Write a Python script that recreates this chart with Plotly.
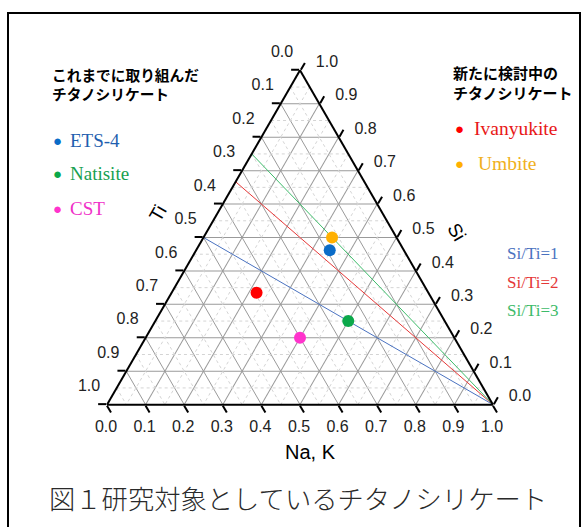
import plotly.graph_objects as go

# ---- data ----
names = ["ETS-4", "Natisite", "CST", "Ivanyukite", "Umbite"]
si_vals = [0.462, 0.25, 0.20, 0.335, 0.50]
ti_vals = [0.192, 0.25, 0.40, 0.445, 0.167]
nak_vals = [0.346, 0.50, 0.40, 0.22, 0.333]
point_colors = ["#0A6CC8", "#0BA84A", "#FF33CC", "#FF0000", "#FFB000"]
label_colors = ["#1F5FAF", "#17A050", "#F030C8", "#E81818", "#F0B020"]

ratio_labels = ["Si/Ti=1", "Si/Ti=2", "Si/Ti=3"]
ratios = [1, 2, 3]
ratio_colors = ["#4A72C0", "#E53838", "#3DBB6A"]

tick_vals = [i / 10 for i in range(11)]
tick_text = ["%.1f" % (1 - v) for v in tick_vals]
minor_vals = [0.05 + i / 10 for i in range(10)]

fig = go.Figure()

# minor dotted grid
ma, mb, mc = [], [], []
for v in minor_vals:
    ma += [v, v, None]; mb += [1 - v, 0, None]; mc += [0, 1 - v, None]
    ma += [1 - v, 0, None]; mb += [v, v, None]; mc += [0, 1 - v, None]
    ma += [1 - v, 0, None]; mb += [0, 1 - v, None]; mc += [v, v, None]
fig.add_trace(go.Scatterternary(a=ma, b=mb, c=mc, mode="lines",
                                line=dict(color="#d4d4d4", width=1, dash="dot"),
                                hoverinfo="skip", showlegend=False))

# ratio lines
for r, col in zip(ratios, ratio_colors):
    fig.add_trace(go.Scatterternary(a=[0, r / (1 + r)], b=[0, 1 / (1 + r)], c=[1, 0],
                                    mode="lines", line=dict(color=col, width=1),
                                    hoverinfo="skip", showlegend=False))

# points
for n, s, t, k, col in zip(names, si_vals, ti_vals, nak_vals, point_colors):
    fig.add_trace(go.Scatterternary(a=[s], b=[t], c=[k], mode="markers", name=n,
                                    marker=dict(color=col, size=12), showlegend=False))

# helper subplots that only carry tick labels (offset like the original)
for sp in ["ternary2", "ternary3", "ternary4"]:
    fig.add_trace(go.Scatterternary(a=[], b=[], c=[], subplot=sp, showlegend=False,
                                    hoverinfo="skip"))

tickfont = dict(family="Liberation Sans, Arial", size=16, color="#222")
axis_common = dict(tickvals=tick_vals, ticktext=[""] * len(tick_vals), ticks="outside",
                   ticklen=8, tickcolor="black", tickwidth=1.5, linecolor="black",
                   linewidth=2, gridcolor="#9a9a9a", gridwidth=1, showgrid=True,
                   showticklabels=True, tickfont=tickfont, title=dict(text=""))
label_only = dict(tickvals=tick_vals, ticktext=tick_text, ticks="outside", ticklen=8,
                  tickcolor="rgba(0,0,0,0)", showline=False, showgrid=False,
                  tickfont=tickfont, title=dict(text=""))
hidden = dict(showline=False, showgrid=False, showticklabels=False, ticks="",
              title=dict(text=""))

W, H = 588, 527
x0, x1, y0, y1 = 107, 493, 122, 457


def dom(dx, dy):
    return dict(x=[(x0 + dx) / W, (x1 + dx) / W], y=[(y0 + dy) / H, (y1 + dy) / H])


fig.update_layout(
    width=W, height=H,
    margin=dict(l=0, r=0, t=0, b=0),
    paper_bgcolor="white",
    ternary=dict(domain=dom(0, 0), bgcolor="white", sum=1,
                 aaxis=axis_common, baxis=axis_common, caxis=axis_common),
    ternary2=dict(domain=dom(4, 17), bgcolor="rgba(0,0,0,0)", sum=1,
                  aaxis=label_only, baxis=hidden, caxis=hidden),
    ternary3=dict(domain=dom(9, 0), bgcolor="rgba(0,0,0,0)", sum=1,
                  aaxis=hidden, baxis=hidden, caxis=label_only),
    ternary4=dict(domain=dom(-5, 0), bgcolor="rgba(0,0,0,0)", sum=1,
                  aaxis=hidden, baxis=label_only, caxis=hidden),
    font=dict(family="Liberation Sans, Arial"),
)


def px(x, y, text, size, color="black", family="Liberation Serif, Times New Roman", angle=0,
       xanchor="left", weight=None):
    f = dict(size=size, color=color, family=family)
    if weight:
        f["weight"] = weight
    fig.add_annotation(x=x / W, y=1 - y / H, xref="paper", yref="paper", text=text,
                       showarrow=False, textangle=angle, xanchor=xanchor, yanchor="middle",
                       align="left", font=f)


sans = "Liberation Sans, Arial"
# axis titles
px(158, 214, "Ti", 19, "black", sans, angle=-60, xanchor="center")
px(456, 232, "Si", 19, "black", sans, angle=60, xanchor="center")
px(310, 452, "Na, K", 20, "black", sans, xanchor="center")

jp = "Noto Sans CJK JP"
# left legend block
px(50, 84, "<b>これまでに取り組んだ<br>チタノシリケート</b>", 14.7, "black", jp)
for i, yy in zip([0, 1, 2], [140, 173, 208]):
    px(57, yy, "●", 15, point_colors[i], sans, xanchor="center")
    px(68, yy, names[i], 19, label_colors[i])

# right legend block
px(451, 83, "<b>新たに検討中の<br>チタノシリケート</b>", 15, "black", jp)
for i, yy, tx in zip([3, 4], [129, 163], [472, 476]):
    px(459, yy, "●", 15, point_colors[i], sans, xanchor="center")
    px(tx, yy, names[i], 19.5, label_colors[i])

# ratio labels
for lbl, col, yy in zip(ratio_labels, ratio_colors, [253, 282, 310]):
    px(505, yy, lbl, 17, col)

# caption
px(47, 497, "図１研究対象としているチタノシリケート", 26.3, "#2a2a2a", jp, weight=300)

# border
fig.add_shape(type="rect", xref="paper", yref="paper", x0=8 / W, x1=580 / W,
              y0=-0.05, y1=1 - 13 / H, line=dict(color="black", width=2))

fig.write_html("out.html")
